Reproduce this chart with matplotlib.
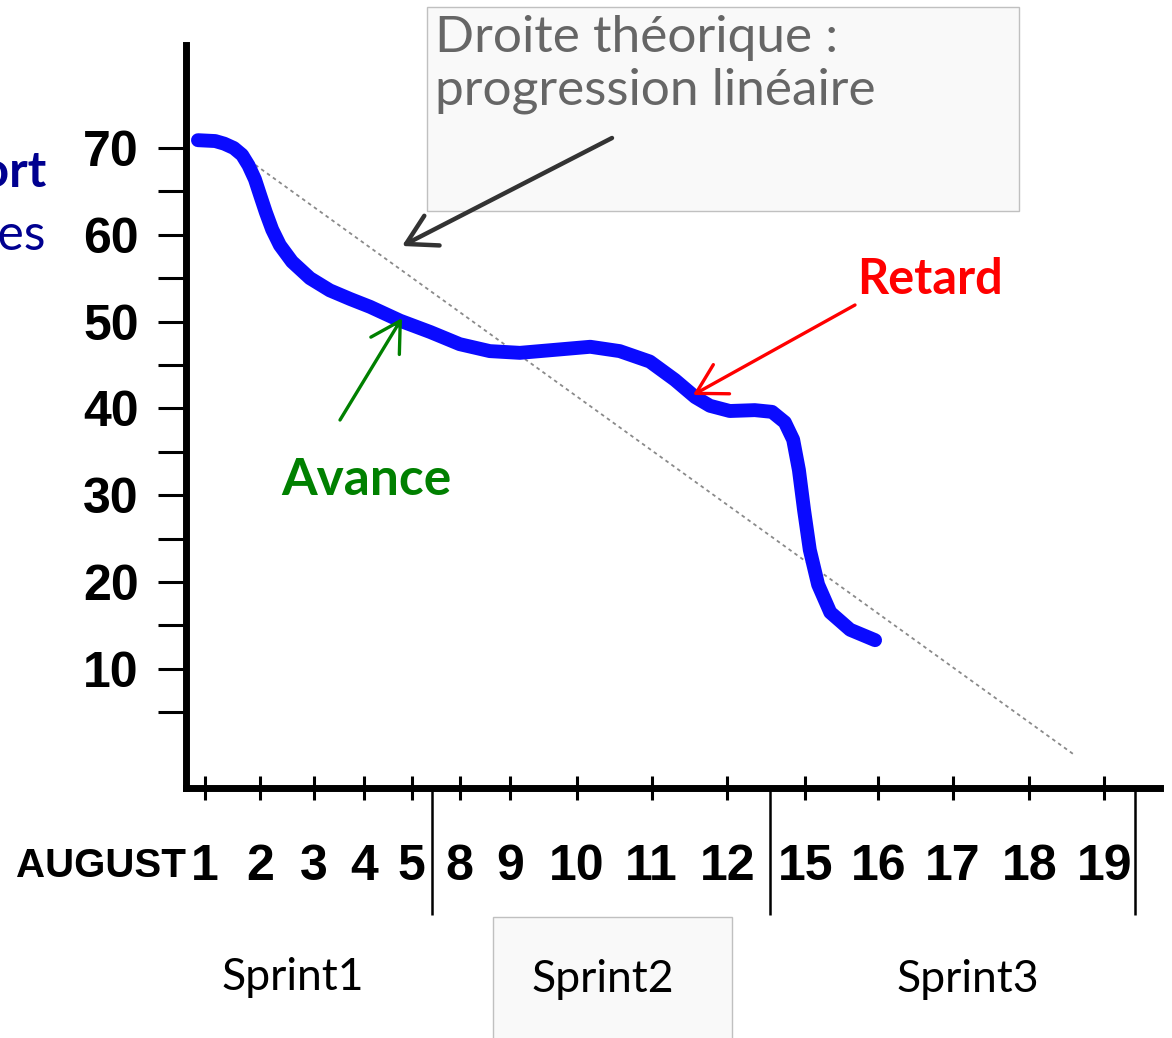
import matplotlib
matplotlib.use('Agg')
import matplotlib.pyplot as plt
from matplotlib.patches import Rectangle

W, H = 1172, 1038

# working days written under the axis, and the sprints
days = ['1', '2', '3', '4', '5', '8', '9', '10', '11', '12', '15', '16', '17', '18', '19']
sprints = ['Sprint1', 'Sprint2', 'Sprint3']
y_labels = [10, 20, 30, 40, 50, 60, 70]

# remaining work (x in working-day units, day 1 = 0)
burn_x = [-0.11, 0.16, 0.30, 0.45, 0.58, 0.68, 0.78, 0.86, 0.95, 1.05, 1.17, 1.36, 1.64, 1.95,
          2.27, 2.58, 3.05, 3.52, 3.98, 4.45, 4.92, 5.55, 6.02, 6.48, 6.95, 7.34,
          7.66, 7.89, 8.20, 8.59, 8.86, 9.06, 9.19, 9.28, 9.36, 9.45, 9.58, 9.77,
          10.08, 10.47]
burn_y = [70.9, 70.8, 70.5, 70.0, 69.2, 68.0, 66.4, 64.6, 62.6, 60.6, 58.8, 56.9, 55.0, 53.6,
          52.6, 51.7, 50.1, 48.8, 47.4, 46.6, 46.4, 46.8, 47.1, 46.6, 45.4, 43.3,
          41.3, 40.3, 39.7, 39.8, 39.6, 38.4, 36.4, 32.9, 28.3, 23.7, 19.7, 16.5,
          14.5, 13.3]

# theoretical straight line
ideal_x = [0.42, 13.6]
ideal_y = [70, 0]

# layout: where things sit in the picture (pixels)
X0_PX, PX_PER_DAY = 205, 64.0
Y70_PX, PX_PER_UNIT = 148, 8.68
day_pos = [0, 0.86, 1.70, 2.48, 3.23, 3.98, 4.77, 5.81, 6.98, 8.16, 9.38, 10.52, 11.69, 12.88, 14.05]
sep_pos = [3.55, 8.83, 14.53]


def dx(px):
    return (px - X0_PX) / PX_PER_DAY


def dy(py):
    return 70 - (py - Y70_PX) / PX_PER_UNIT


def fpx(x, y):
    return (x / W, 1 - y / H)


hand = ['Liberation Sans', 'DejaVu Sans']
plt.rcParams['font.family'] = ['Lato', 'DejaVu Sans']

fig = plt.figure(figsize=(W / 100, H / 100), dpi=100)
ax = fig.add_axes([0, 0, 1, 1])
ax.patch.set_visible(False)
ax.set_xlim(dx(0), dx(W))
ax.set_ylim(dy(H), dy(0))

x_axis, y_axis = dx(186), dy(788)

# axes drawn like the sketch
for s in ['top', 'right']:
    ax.spines[s].set_visible(False)
ax.spines['left'].set_position(('data', x_axis))
ax.spines['left'].set_bounds(y_axis, dy(45))
ax.spines['bottom'].set_position(('data', y_axis))
ax.spines['bottom'].set_bounds(x_axis, dx(1160))
for s in ['left', 'bottom']:
    ax.spines[s].set_linewidth(5)
    ax.spines[s].set_capstyle('projecting')

ax.set_yticks(y_labels)
ax.set_yticks(range(5, 70, 10), minor=True)
ax.set_yticklabels([str(v) for v in y_labels], family=hand, fontsize=36, fontweight='bold')
ax.tick_params(axis='y', which='both', direction='out', length=20, width=2.2, pad=14)

ax.set_xticks(day_pos)
ax.set_xticklabels(days, family=hand, fontsize=36, fontweight='bold')
ax.tick_params(axis='x', direction='inout', length=17, width=2.2, pad=32)

ax.vlines(sep_pos, y_axis, dy(915), color='black', lw=1.8)

# ideal and real burndown
ax.plot(ideal_x, ideal_y, color='#8a8a8a', lw=1.3, ls=(0, (2, 2)))
ax.plot(burn_x, burn_y, color='#0a0aff', lw=10, solid_capstyle='round', solid_joinstyle='round')

# boxes
fig.add_artist(Rectangle(fpx(427, 211), (1019 - 427) / W, (211 - 7) / H, transform=fig.transFigure,
                         facecolor='#f9f9f9', edgecolor='#c0c0c0', lw=1, zorder=-1))
fig.add_artist(Rectangle(fpx(493, 1040), (732 - 493) / W, (1040 - 917) / H, transform=fig.transFigure,
                         facecolor='#f9f9f9', edgecolor='#c0c0c0', lw=1, zorder=-1))

fig.text(*fpx(435, 52), 'Droite théorique :', fontsize=37, color='#666666', va='baseline')
fig.text(*fpx(435, 105), 'progression linéaire', fontsize=37, color='#666666', va='baseline')
fig.text(*fpx(857, 294), 'Retard', fontsize=35, fontweight='bold', color='#ff0000', va='baseline')
fig.text(*fpx(281, 495), 'Avance', fontsize=37, fontweight='bold', color='#008000', va='baseline')
fig.text(*fpx(46, 187), 'Effort', fontsize=36, fontweight='bold', color='#000090', ha='right', va='baseline')
fig.text(*fpx(46, 250), 'heures', fontsize=36, color='#000090', ha='right', va='baseline')
fig.text(*fpx(186, 866), 'AUGUST', family=hand, fontsize=29, fontweight='bold', ha='right', va='center')

for name, (px, py) in zip(sprints, [(293, 977), (603, 980), (968, 980)]):
    fig.text(*fpx(px, py), name, fontsize=32, ha='center', va='center')

arrows = [((612, 138), (402, 246), '#333333', 3.2),
          ((855, 305), (693, 395), '#ff0000', 2.4),
          ((340, 420), (402, 318), '#008000', 2.4)]
for start, end, col, lw in arrows:
    ax.annotate('', xy=fpx(*end), xycoords='figure fraction', xytext=fpx(*start),
                textcoords='figure fraction',
                arrowprops=dict(arrowstyle='->,head_length=0.7,head_width=0.4', color=col, lw=lw,
                                mutation_scale=30, shrinkA=0, shrinkB=0))

fig.savefig('out.png', dpi=100)
